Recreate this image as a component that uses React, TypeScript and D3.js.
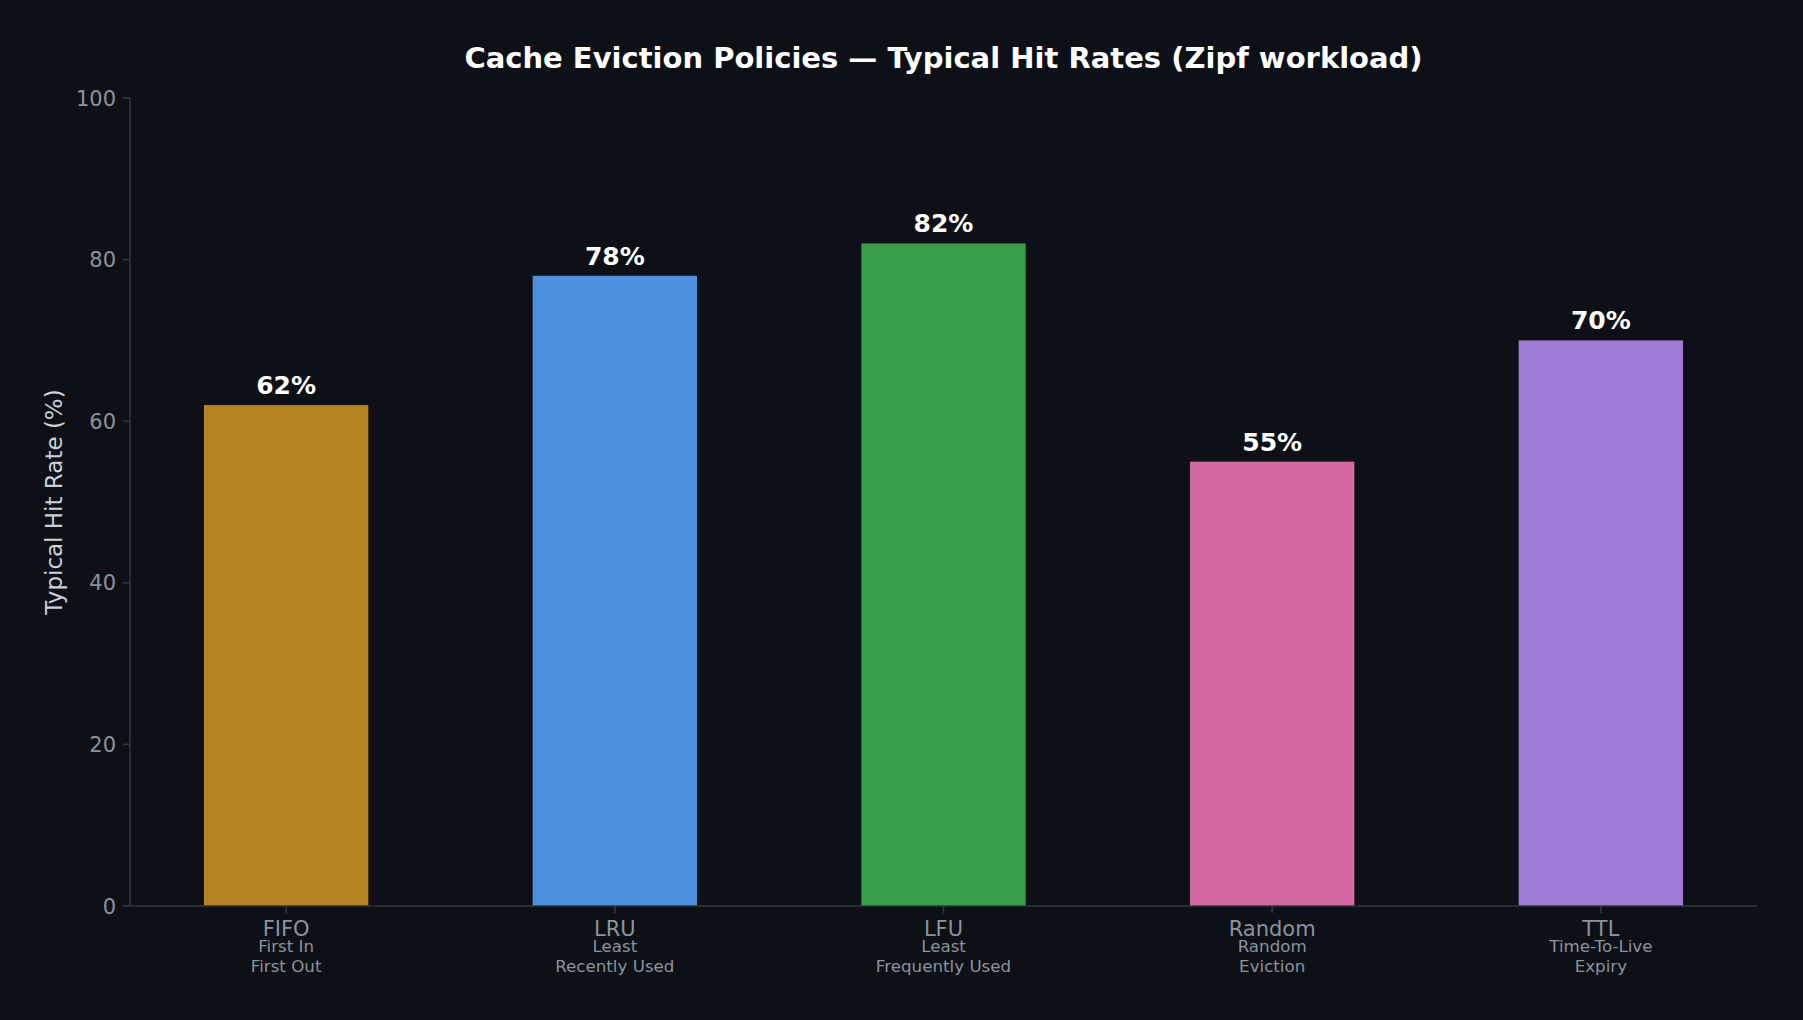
import React, { useEffect, useRef } from 'react';
import * as d3 from 'd3';

const categories = ['FIFO', 'LRU', 'LFU', 'Random', 'TTL'];
const subLabels = [
  ['First In', 'First Out'],
  ['Least', 'Recently Used'],
  ['Least', 'Frequently Used'],
  ['Random', 'Eviction'],
  ['Time-To-Live', 'Expiry'],
];
const hitRates = [62, 78, 82, 55, 70];
const barColors = ['#b58322', '#4a90de', '#389f48', '#d4689f', '#a07bd8'];
const yTicks = [0, 20, 40, 60, 80, 100];

const W = 1803;
const H = 1020;
const FONT = 'DejaVu Sans, sans-serif';

export default function App() {
  const svgRef = useRef<SVGSVGElement>(null);

  useEffect(() => {
    document.body.style.margin = '0';
    document.body.style.background = '#0d1017';

    const margin = { top: 98, right: 46, bottom: 114, left: 130 };
    const innerW = W - margin.left - margin.right;
    const innerH = H - margin.top - margin.bottom;

    const svg = d3.select(svgRef.current);
    svg.selectAll('*').remove();
    svg.attr('width', W).attr('height', H);

    svg.append('rect').attr('width', W).attr('height', H).attr('fill', '#0d1017');

    const g = svg.append('g').attr('transform', `translate(${margin.left},${margin.top})`);

    // matplotlib-style bar positions: index axis with 5% margins
    const barW = 0.5;
    const lo = -barW / 2, hi = categories.length - 1 + barW / 2;
    const pad = (hi - lo) * 0.05;
    const x = d3.scaleLinear().domain([lo - pad, hi + pad]).range([0, innerW]);
    const y = d3.scaleLinear().domain([0, 100]).range([innerH, 0]);

    // Bars
    g.selectAll('rect.bar').data(hitRates).join('rect').attr('class', 'bar')
      .attr('x', (_, i) => x(i - barW / 2))
      .attr('width', (_, i) => x(i + barW / 2) - x(i - barW / 2))
      .attr('y', d => y(d))
      .attr('height', d => y(0) - y(d))
      .attr('fill', (_, i) => barColors[i]);

    // Value labels
    g.selectAll('text.val').data(hitRates).join('text').attr('class', 'val')
      .attr('x', (_, i) => x(i)).attr('y', d => y(d) - 11)
      .attr('text-anchor', 'middle').attr('fill', '#ffffff')
      .attr('font-family', FONT).attr('font-weight', 'bold').attr('font-size', '25px')
      .text(d => `${d}%`);

    // Spines
    g.append('line').attr('x1', 0).attr('x2', 0).attr('y1', 0).attr('y2', innerH)
      .attr('stroke', '#30363d').attr('stroke-width', 1.6);
    g.append('line').attr('x1', 0).attr('x2', innerW).attr('y1', innerH).attr('y2', innerH)
      .attr('stroke', '#30363d').attr('stroke-width', 1.6);

    // Y ticks
    const yt = g.selectAll('g.yt').data(yTicks).join('g').attr('class', 'yt')
      .attr('transform', d => `translate(0,${y(d)})`);
    yt.append('line').attr('x1', -7).attr('x2', 0).attr('stroke', '#30363d').attr('stroke-width', 1.6);
    yt.append('text').attr('x', -14).attr('dy', '0.36em').attr('text-anchor', 'end')
      .attr('fill', '#8b949e').attr('font-family', FONT).attr('font-size', '21px')
      .text(d => d);

    // X ticks + labels
    const xt = g.selectAll('g.xt').data(categories).join('g').attr('class', 'xt')
      .attr('transform', (_, i) => `translate(${x(i)},${innerH})`);
    xt.append('line').attr('y1', 0).attr('y2', 7).attr('stroke', '#30363d').attr('stroke-width', 1.6);
    xt.append('text').attr('y', 30).attr('text-anchor', 'middle')
      .attr('fill', '#8b949e').attr('font-family', FONT).attr('font-size', '21px')
      .text(d => d);
    xt.each(function (_, i) {
      const t = d3.select(this).append('text').attr('text-anchor', 'middle')
        .attr('fill', '#8b949e').attr('font-family', FONT).attr('font-size', '16.7px');
      subLabels[i].forEach((s, k) => {
        t.append('tspan').attr('x', 0).attr('y', 46 + k * 20).text(s);
      });
    });

    // Y label
    g.append('text').attr('transform', 'rotate(-90)')
      .attr('x', -innerH / 2).attr('y', -margin.left + 62)
      .attr('text-anchor', 'middle').attr('fill', '#c9d1d9')
      .attr('font-family', FONT).attr('font-size', '23px')
      .text('Typical Hit Rate (%)');

    // Title
    svg.append('text').attr('x', margin.left + innerW / 2).attr('y', 68)
      .attr('text-anchor', 'middle').attr('fill', '#ffffff')
      .attr('font-family', FONT).attr('font-weight', 'bold').attr('font-size', '29px')
      .text('Cache Eviction Policies — Typical Hit Rates (Zipf workload)');
  }, []);

  return <svg ref={svgRef} style={{ display: 'block' }} />;
}
